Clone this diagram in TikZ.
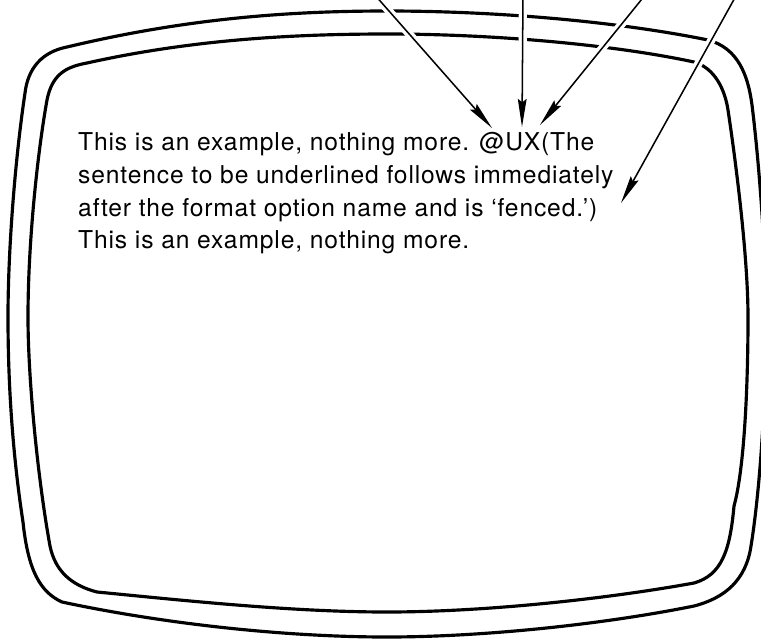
\documentclass[tikz,border=0pt]{standalone}
\usepackage{fontspec}
\setmainfont[LetterSpace=3.5]{TeX Gyre Heros}
\usetikzlibrary{arrows.meta}
\tikzset{
  outline/.style={line width=2.7pt, line join=round},
  casing/.style={draw=white, line width=7pt, shorten >=30pt},
  arr/.style={line width=1.3pt, -{Stealth[length=24pt, width=7.5pt, inset=3pt]}},
  txt/.style={anchor=base west, inner sep=0pt, font=\fontsize{21}{24}\selectfont}
}
\begin{document}
\begin{tikzpicture}[x=0.03cm, y=-0.03cm]
\useasboundingbox (0,0) rectangle (761,639);
% outer frame
\draw[outline] (67,47) .. controls (180,20) and (280,11) .. (387,11)
  .. controls (500,11) and (620,22) .. (708,40)
  .. controls (738,48) and (748,75) .. (752,105)
  .. controls (760,170) and (766,260) .. (766,317)
  .. controls (766,400) and (760,490) .. (751,546)
  .. controls (746,580) and (725,598) .. (694,606)
  .. controls (600,625) and (480,637) .. (387,637)
  .. controls (290,637) and (170,625) .. (62,602)
  .. controls (40,592) and (28,570) .. (23,522)
  .. controls (12,450) and (8,380) .. (8,317)
  .. controls (8,250) and (15,160) .. (25,93)
  .. controls (28,68) and (42,52) .. cycle;
% inner frame
\draw[outline] (87,63) .. controls (190,40) and (290,34) .. (387,34)
  .. controls (490,34) and (610,44) .. (694,62)
  .. controls (715,68) and (725,90) .. (728,110)
  .. controls (737,170) and (748,260) .. (748,317)
  .. controls (748,390) and (744,470) .. (734,506)
  .. controls (730,550) and (722,575) .. (694,583)
  .. controls (600,600) and (480,612) .. (387,612)
  .. controls (290,612) and (180,600) .. (97,592)
  .. controls (70,585) and (55,570) .. (50,546)
  .. controls (38,480) and (28,380) .. (28,317)
  .. controls (28,240) and (38,150) .. (47,100)
  .. controls (52,75) and (65,67) .. cycle;
% arrow ends
\coordinate (s1) at (374,-6);
\coordinate (t1) at (492,128);
\coordinate (s2) at (523,-6);
\coordinate (t2) at (522,127);
\coordinate (s3) at (646,-6);
\coordinate (t3) at (540,125);
\coordinate (s4) at (737,-6);
\coordinate (t4) at (621,203);
\foreach \a/\b in {s1/t1,s2/t2,s3/t3,s4/t4}{
  \draw[casing] (\a) -- (\b);
  \draw[arr] (\a) -- (\b);
}
% text
\node[txt] (l1) at (78,150) {This is an example, nothing more. @UX(The};
\node[txt] (l2) at (78,183) {sentence to be underlined follows immediately};
\node[txt] (l3) at (78,216) {after the format option name and is ‘fenced.’)};
\node[txt] (l4) at (78,248) {This is an example, nothing more.};
\end{tikzpicture}
\end{document}
